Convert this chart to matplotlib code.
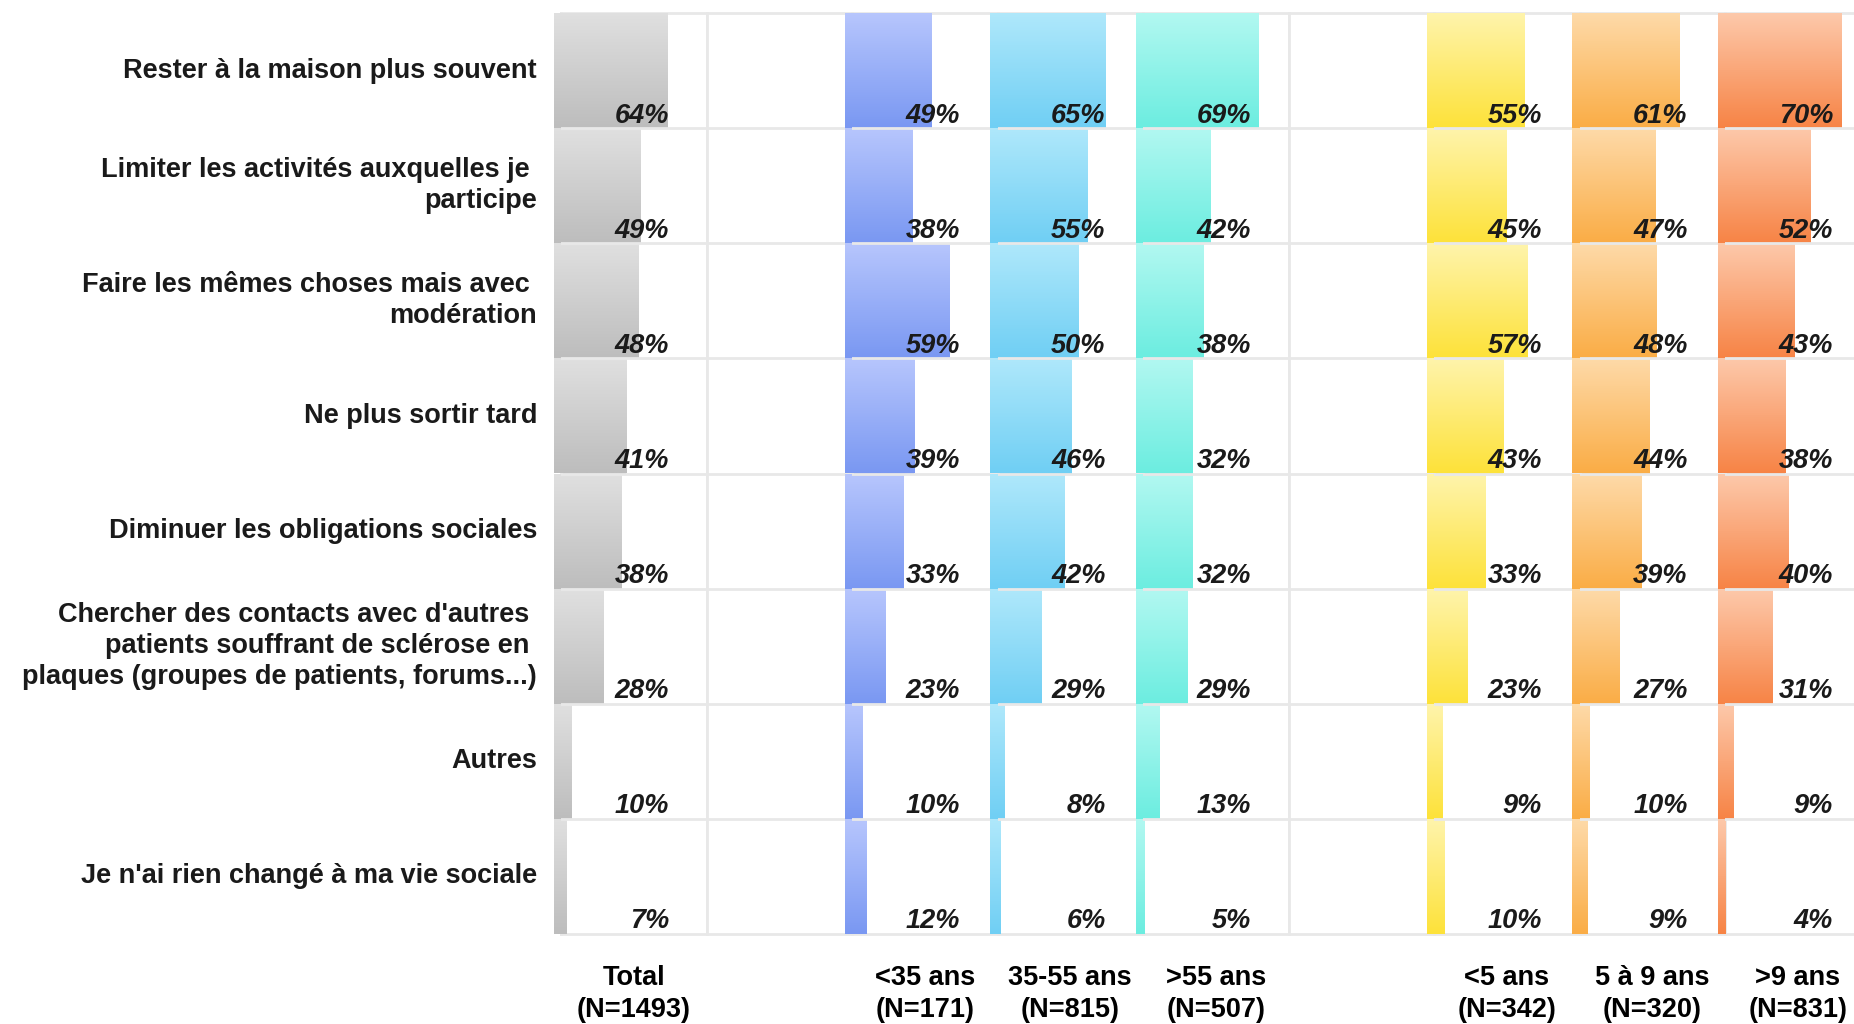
import matplotlib
matplotlib.use("Agg")
import matplotlib.pyplot as plt
import matplotlib.transforms as mtransforms
import numpy as np
from matplotlib.colors import LinearSegmentedColormap

plt.rcParams['font.family'] = ['Liberation Sans', 'DejaVu Sans']

# ---------------- data ----------------
categories = [
    "Rester à la maison plus souvent",
    "Limiter les activités auxquelles je \nparticipe",
    "Faire les mêmes choses mais avec \nmodération",
    "Ne plus sortir tard",
    "Diminuer les obligations sociales",
    "Chercher des contacts avec d'autres \npatients souffrant de sclérose en \nplaques (groupes de patients, forums...)",
    "Autres",
    "Je n'ai rien changé à ma vie sociale",
]

group_labels = ["Total\n(N=1493)", "<35 ans\n(N=171)", "35-55 ans\n(N=815)", ">55 ans\n(N=507)",
                "<5 ans\n(N=342)", "5 à 9 ans\n(N=320)", ">9 ans\n(N=831)"]

total      = [64, 49, 48, 41, 38, 28, 10, 7]
age_lt35   = [49, 38, 59, 39, 33, 23, 10, 12]
age_35_55  = [65, 55, 50, 46, 42, 29, 8, 6]
age_gt55   = [69, 42, 38, 32, 32, 29, 13, 5]
dur_lt5    = [55, 45, 57, 43, 33, 23, 9, 10]
dur_5_9    = [61, 47, 48, 44, 39, 27, 10, 9]
dur_gt9    = [70, 52, 43, 38, 40, 31, 9, 4]

series = [total, age_lt35, age_35_55, age_gt55, dur_lt5, dur_5_9, dur_gt9]

# gradient colours (top, bottom)
grad_colors = [
    ("#e0e0e0", "#bdbdbd"),
    ("#b7c6fd", "#7a98f2"),
    ("#afe8fb", "#70cff4"),
    ("#b2f8f1", "#6cede0"),
    ("#fff4ac", "#fde23a"),
    ("#fedaa9", "#faad46"),
    ("#fdc9ab", "#f78446"),
]

# column slots (None = empty spacer column)
slots = [0, None, 1, 2, 3, None, 4, 5, 6]

# ---------------- layout ----------------
W, H = 1854, 1024
fig = plt.figure(figsize=(W / 100, H / 100), dpi=100)
fig.patch.set_facecolor("white")

col_left0 = 561.0
col_w = 145.5
top_px, bot_px = 13.0, 934.0
px_per_unit = 177.0
xmin, xmax = 0.04, 0.04 + col_w / px_per_unit
grid_c = "#e8e8e8"
n = len(categories)
fs = 19.5
row_px = (bot_px - top_px) / n

axes = []
for j, s in enumerate(slots):
    left = (col_left0 + j * col_w) / W
    ax = fig.add_axes([left, 1 - bot_px / H, col_w / W, (bot_px - top_px) / H])
    ax.set_xlim(xmin, xmax)
    ax.set_ylim(n, 0)
    ax.set_xticks([])
    ax.set_yticks([])
    for sp in ax.spines.values():
        sp.set_color(grid_c)
        sp.set_linewidth(2)
    for r in range(1, n):
        ax.axhline(r, color=grid_c, lw=2, zorder=5)
    axes.append(ax)
    if s is None:
        continue
    vals = np.array(series[s]) / 100.0
    ctop, cbot = grad_colors[s]
    cmap = LinearSegmentedColormap.from_list("g%d" % s, [ctop, cbot])
    grad = np.linspace(0, 1, 64).reshape(-1, 1)
    bars = ax.barh(np.arange(n) + 0.5, vals, height=1.0, left=0, color=cbot, edgecolor="none", zorder=2)
    for b in bars:
        x0, y0 = b.get_x(), b.get_y()
        w, h = b.get_width(), b.get_height()
        im = ax.imshow(grad, cmap=cmap, aspect="auto", origin="upper",
                       extent=[x0, x0 + w, y0 + h, y0], zorder=3)
        im.set_clip_path(b)
    for i, v in enumerate(series[s]):
        ax.text(xmin + 108 / px_per_unit, i + 1 - 5.5 / row_px, f"{v}%", ha="right", va="baseline",
                fontsize=fs, fontweight="bold", fontstyle="italic", color="#1a1a1a", zorder=6)
    ax.set_xlim(xmin, xmax)
    ax.set_ylim(n, 0)
    ax.text(0.5, -0.034, group_labels[s], transform=ax.transAxes, ha="center", va="top",
            fontsize=fs, fontweight="bold", color="black", linespacing=1.3)

# category labels
trans = mtransforms.blended_transform_factory(fig.transFigure, axes[0].transData)
for i, c in enumerate(categories):
    axes[0].text(537 / W, i + 0.5, c, transform=trans, ha="right", va="center",
                 fontsize=fs, fontweight="bold", color="#1a1a1a", linespacing=1.25,
                 multialignment="right", clip_on=False)

fig.savefig("out.png", dpi=100, facecolor="white")
